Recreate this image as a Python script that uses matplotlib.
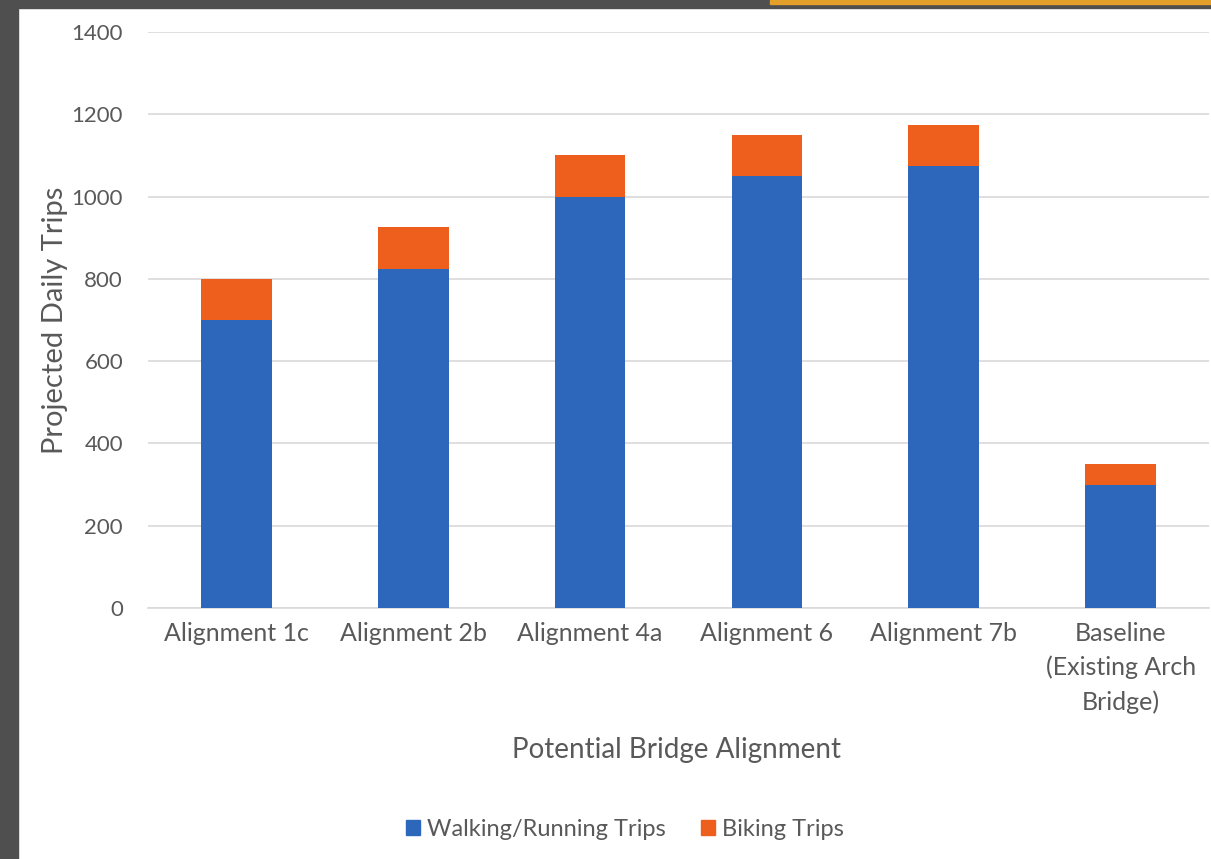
import matplotlib
matplotlib.use("Agg")
import matplotlib.pyplot as plt
from matplotlib.patches import Rectangle, Patch

# data
categories = ["Alignment 1c", "Alignment 2b", "Alignment 4a", "Alignment 6",
              "Alignment 7b", "Baseline\n(Existing Arch\nBridge)"]
walking = [700, 825, 1000, 1050, 1075, 300]
biking = [100, 100, 100, 100, 100, 50]
yticks = [0, 200, 400, 600, 800, 1000, 1200, 1400]

blue = "#2C67BC"
orange = "#EE5F1E"
grey_text = "#595959"

plt.rcParams['font.family'] = ['Lato', 'DejaVu Sans']

fig = plt.figure(figsize=(12.11, 8.59), dpi=100)

# screenshot frame: dark strips on left and top, orange band top right
fig.patches.append(Rectangle((0, 0), 18 / 1211, 1, transform=fig.transFigure,
                             color="#4F4F4F", zorder=0))
fig.patches.append(Rectangle((0, 1 - 8 / 859), 1, 8 / 859, transform=fig.transFigure,
                             color="#4F4F4F", zorder=0))
fig.patches.append(Rectangle((770 / 1211, 1 - 4 / 859), 441 / 1211, 4 / 859,
                             transform=fig.transFigure, color="#E2A02A", zorder=1))

ax = fig.add_axes([148 / 1211, 1 - 608 / 859, (1209 - 148) / 1211, (608 - 32) / 859])

x = range(len(categories))
ax.bar(x, walking, width=0.4, color=blue, label="Walking/Running Trips", zorder=3)
ax.bar(x, biking, width=0.4, bottom=walking, color=orange, label="Biking Trips", zorder=3)

ax.set_xlim(-0.5, len(categories) - 0.5)
ax.set_ylim(0, 1400)
ax.set_yticks(yticks)
ax.set_xticks(list(x))
ax.set_xticklabels(categories, linespacing=1.55)
ax.grid(axis="y", color="#D9D9D9", linewidth=1.2, zorder=0)
for s in ["top", "right", "left"]:
    ax.spines[s].set_visible(False)
ax.spines["bottom"].set_color("#D9D9D9")
ax.spines["bottom"].set_linewidth(1.2)
ax.tick_params(axis="both", length=0, colors=grey_text)
ax.tick_params(axis="x", labelsize=18, pad=10)
ax.tick_params(axis="y", labelsize=16, pad=18)

fig.text(55 / 1211, 1 - 320 / 859, "Projected Daily Trips", fontsize=21,
         color=grey_text, ha="center", va="center", rotation=90)
fig.text(677 / 1211, 1 - 750 / 859, "Potential Bridge Alignment", fontsize=20,
         color=grey_text, ha="center", va="center")

handles = [Patch(color=blue), Patch(color=orange)]
fig.legend(handles, ["Walking/Running Trips", "Biking Trips"], loc="center",
           bbox_to_anchor=(625 / 1211, 1 - 829 / 859), ncol=2, frameon=False,
           fontsize=17, labelcolor=grey_text, handlelength=0.6, handleheight=0.6,
           handletextpad=0.3, columnspacing=1.5)

fig.savefig("out.png", dpi=100, facecolor="white")
